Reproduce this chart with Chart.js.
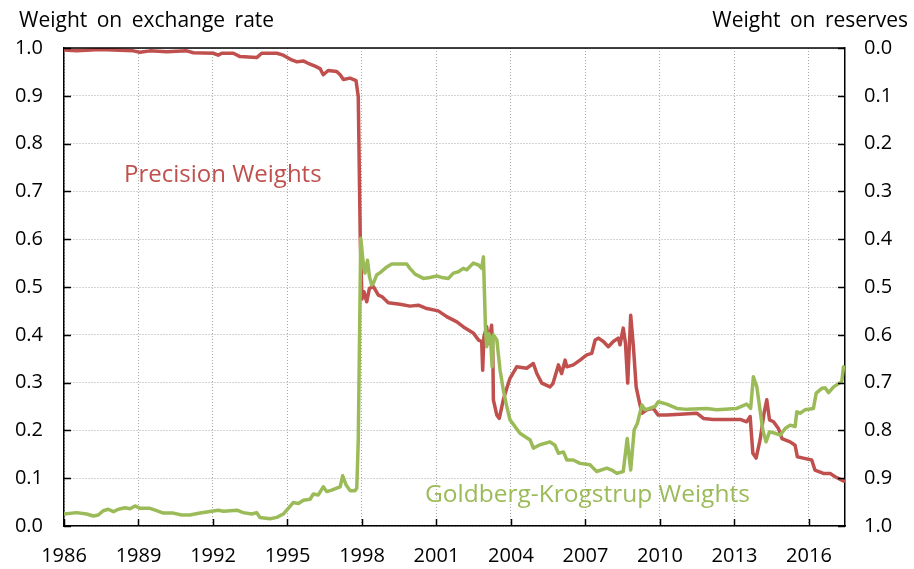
<!DOCTYPE html>
<html lang="en">
<head>
<meta charset="UTF-8" />
<title>Precision vs Goldberg-Krogstrup weights</title>
<style>
  html, body { margin: 0; padding: 0; background: #ffffff; }
  #wrap { width: 914px; height: 569px; }
</style>
</head>
<body>
<div id="wrap"><canvas id="weightsChart" width="914" height="569"></canvas></div>
<script src="https://cdn.jsdelivr.net/npm/chart.js"></script>
<script>
// Precision weights (weight on exchange rate)
const precisionYears = [
  1986.00, 1986.51, 1987.45, 1988.79, 1989.06, 1989.46, 1990.14, 1990.94, 1991.21, 1992.01,
  1992.21, 1992.35, 1992.82, 1993.09, 1993.76, 1993.96, 1994.57, 1994.83, 1995.17, 1995.38,
  1995.63, 1995.83, 1996.11, 1996.31, 1996.44, 1996.64, 1996.98, 1997.12, 1997.25, 1997.52,
  1997.76, 1997.85, 1997.93, 1998.00, 1998.08, 1998.19, 1998.30, 1998.46, 1998.66, 1998.80,
  1999.06, 1999.53, 1999.93, 2000.27, 2000.61, 2001.07, 2001.41, 2001.82, 2002.15, 2002.48,
  2002.69, 2002.82, 2002.86, 2002.91, 2003.02, 2003.10, 2003.22, 2003.27, 2003.29, 2003.43,
  2003.53, 2003.69, 2003.83, 2003.96, 2004.23, 2004.63, 2004.90, 2005.04, 2005.24, 2005.57,
  2005.69, 2005.91, 2006.04, 2006.18, 2006.25, 2006.51, 2006.78, 2007.05, 2007.25, 2007.39,
  2007.52, 2007.72, 2007.92, 2008.12, 2008.32, 2008.39, 2008.52, 2008.61, 2008.70, 2008.82,
  2008.93, 2009.04, 2009.15, 2009.27, 2009.47, 2009.73, 2009.93, 2010.27, 2010.81, 2011.48,
  2011.75, 2012.15, 2013.23, 2013.49, 2013.63, 2013.74, 2013.87, 2014.03, 2014.19, 2014.30,
  2014.41, 2014.57, 2014.77, 2014.91, 2015.24, 2015.44, 2015.53, 2015.77, 2016.11, 2016.24,
  2016.58, 2016.85, 2017.05, 2017.32, 2017.45
];
const precisionWeights = [
  0.996, 0.994, 0.997, 0.994, 0.991, 0.994, 0.992, 0.994, 0.990, 0.989,
  0.985, 0.989, 0.989, 0.982, 0.980, 0.989, 0.989, 0.985, 0.975, 0.971,
  0.973, 0.968, 0.962, 0.957, 0.944, 0.953, 0.951, 0.944, 0.934, 0.937,
  0.932, 0.898, 0.600, 0.475, 0.490, 0.469, 0.497, 0.501, 0.483, 0.480,
  0.467, 0.464, 0.460, 0.462, 0.455, 0.450, 0.438, 0.427, 0.414, 0.404,
  0.389, 0.386, 0.326, 0.396, 0.417, 0.382, 0.420, 0.361, 0.264, 0.232,
  0.225, 0.264, 0.288, 0.309, 0.333, 0.330, 0.340, 0.319, 0.299, 0.291,
  0.298, 0.337, 0.319, 0.347, 0.333, 0.337, 0.347, 0.358, 0.361, 0.389,
  0.393, 0.386, 0.375, 0.386, 0.393, 0.379, 0.414, 0.382, 0.299, 0.441,
  0.375, 0.291, 0.264, 0.236, 0.243, 0.246, 0.232, 0.232, 0.234, 0.236,
  0.225, 0.223, 0.223, 0.218, 0.229, 0.152, 0.142, 0.180, 0.236, 0.264,
  0.222, 0.218, 0.204, 0.183, 0.176, 0.169, 0.145, 0.142, 0.138, 0.117,
  0.110, 0.110, 0.103, 0.096, 0.093
];

// Goldberg-Krogstrup weights
const gkYears = [
  1986.00, 1986.51, 1986.91, 1987.18, 1987.38, 1987.58, 1987.78, 1987.99, 1988.19, 1988.46,
  1988.66, 1988.86, 1989.06, 1989.46, 1989.73, 1990.00, 1990.40, 1990.74, 1991.07, 1991.48,
  1991.81, 1992.21, 1992.42, 1992.96, 1993.22, 1993.56, 1993.76, 1993.89, 1994.30, 1994.57,
  1994.83, 1995.03, 1995.23, 1995.44, 1995.64, 1995.91, 1996.04, 1996.24, 1996.44, 1996.58,
  1996.78, 1996.98, 1997.12, 1997.22, 1997.36, 1997.52, 1997.72, 1997.79, 1997.85, 1997.95,
  1998.05, 1998.12, 1998.22, 1998.30, 1998.39, 1998.46, 1998.59, 1998.73, 1999.00, 1999.20,
  1999.80, 1999.93, 2000.14, 2000.47, 2000.74, 2001.01, 2001.21, 2001.48, 2001.68, 2001.88,
  2002.08, 2002.22, 2002.48, 2002.69, 2002.82, 2002.89, 2002.97, 2003.02, 2003.10, 2003.18,
  2003.24, 2003.29, 2003.43, 2003.56, 2003.69, 2003.83, 2003.96, 2004.36, 2004.77, 2004.90,
  2005.17, 2005.57, 2005.77, 2005.91, 2006.11, 2006.25, 2006.51, 2006.78, 2007.18, 2007.45,
  2007.86, 2008.06, 2008.26, 2008.52, 2008.68, 2008.82, 2008.96, 2009.09, 2009.27, 2009.40,
  2009.80, 2009.93, 2010.27, 2010.68, 2011.08, 2011.88, 2012.29, 2013.09, 2013.49, 2013.65,
  2013.76, 2013.90, 2014.14, 2014.27, 2014.41, 2014.64, 2014.84, 2015.04, 2015.24, 2015.44,
  2015.51, 2015.64, 2015.84, 2016.18, 2016.29, 2016.52, 2016.65, 2016.79, 2016.99, 2017.32,
  2017.39, 2017.45
];
const gkWeights = [
  0.025, 0.028, 0.025, 0.021, 0.023, 0.032, 0.035, 0.030, 0.035, 0.038,
  0.036, 0.042, 0.037, 0.037, 0.032, 0.027, 0.027, 0.023, 0.023, 0.027,
  0.030, 0.033, 0.031, 0.033, 0.028, 0.025, 0.028, 0.018, 0.015, 0.018,
  0.025, 0.037, 0.049, 0.047, 0.054, 0.056, 0.067, 0.065, 0.082, 0.072,
  0.075, 0.079, 0.082, 0.105, 0.086, 0.074, 0.074, 0.079, 0.180, 0.602,
  0.550, 0.529, 0.556, 0.522, 0.504, 0.508, 0.525, 0.530, 0.542, 0.548,
  0.548, 0.539, 0.527, 0.518, 0.520, 0.523, 0.520, 0.518, 0.529, 0.532,
  0.539, 0.536, 0.550, 0.546, 0.539, 0.563, 0.417, 0.375, 0.403, 0.389,
  0.333, 0.400, 0.389, 0.326, 0.285, 0.250, 0.222, 0.194, 0.180, 0.163,
  0.170, 0.176, 0.169, 0.152, 0.155, 0.138, 0.138, 0.131, 0.128, 0.114,
  0.121, 0.117, 0.110, 0.114, 0.183, 0.117, 0.201, 0.215, 0.253, 0.243,
  0.250, 0.260, 0.255, 0.246, 0.244, 0.246, 0.243, 0.246, 0.255, 0.246,
  0.312, 0.291, 0.201, 0.176, 0.197, 0.194, 0.190, 0.204, 0.211, 0.208,
  0.239, 0.236, 0.243, 0.246, 0.278, 0.288, 0.289, 0.279, 0.291, 0.302,
  0.333, 0.330
];

const xMin = 1986, xMax = 2017.45, xStep = 3;
const leftTitle = 'Weight on exchange rate';
const rightTitle = 'Weight on reserves';
const precisionLabel = 'Precision Weights';
const gkLabel = 'Goldberg-Krogstrup Weights';

const RED = '#C0504D';
const GREEN = '#9BBB59';
const FONT = '"Open Sans", "Noto Sans", sans-serif';

function toPoints(xs, ys) {
  return xs.map((x, i) => ({ x: x, y: ys[i] }));
}

// frame top line, inward tick marks, titles and in-plot labels
const decorations = {
  id: 'decorations',
  afterDraw(chart) {
    const { ctx, chartArea: a, scales } = chart;
    ctx.save();
    ctx.strokeStyle = '#000';
    ctx.lineWidth = 1.5;
    ctx.beginPath();
    ctx.moveTo(a.left, a.top);
    ctx.lineTo(a.right, a.top);
    ctx.stroke();

    const tl = 7;
    ctx.beginPath();
    scales.y.ticks.forEach(t => {
      const py = Math.round(scales.y.getPixelForValue(t.value)) + 0.5;
      ctx.moveTo(a.left, py); ctx.lineTo(a.left + tl, py);
      ctx.moveTo(a.right, py); ctx.lineTo(a.right - tl, py);
    });
    scales.x.ticks.forEach(t => {
      const px = Math.round(scales.x.getPixelForValue(t.value)) + 0.5;
      ctx.moveTo(px, a.bottom); ctx.lineTo(px, a.bottom - tl);
    });
    ctx.stroke();

    ctx.fillStyle = '#000';
    ctx.font = '21px ' + FONT;
    ctx.textBaseline = 'alphabetic';
    if ('wordSpacing' in ctx) ctx.wordSpacing = '4px';
    ctx.textAlign = 'left';
    ctx.fillText(leftTitle, 19, 27);
    ctx.textAlign = 'right';
    ctx.fillText(rightTitle, 908, 27);
    if ('wordSpacing' in ctx) ctx.wordSpacing = '0px';

    ctx.textAlign = 'left';
    ctx.font = '24px ' + FONT;
    ctx.fillStyle = RED;
    ctx.fillText(precisionLabel, 124, 182);
    ctx.font = '24.5px ' + FONT;
    ctx.fillStyle = GREEN;
    ctx.fillText(gkLabel, 425, 502);
    ctx.restore();
  }
};

const gridDash = { display: true, color: '#000', width: 1.5, dash: [1, 2] };

new Chart(document.getElementById('weightsChart').getContext('2d'), {
  type: 'line',
  data: {
    datasets: [
      {
        label: gkLabel,
        data: toPoints(gkYears, gkWeights),
        borderColor: GREEN,
        borderWidth: 3.5,
        pointRadius: 0,
        tension: 0,
        borderJoinStyle: 'round',
        yAxisID: 'y'
      },
      {
        label: precisionLabel,
        data: toPoints(precisionYears, precisionWeights),
        borderColor: RED,
        borderWidth: 3.5,
        pointRadius: 0,
        tension: 0,
        borderJoinStyle: 'round',
        yAxisID: 'y'
      }
    ]
  },
  options: {
    responsive: false,
    animation: false,
    layout: { padding: { top: 48, left: 0, right: 0, bottom: 0 } },
    plugins: {
      legend: { display: false },
      tooltip: { enabled: false }
    },
    scales: {
      x: {
        type: 'linear',
        min: xMin,
        max: xMax,
        afterFit: s => { s.height = 43; },
        ticks: {
          stepSize: xStep,
          includeBounds: false,
          autoSkip: false,
          maxRotation: 0,
          padding: 18,
          color: '#000',
          font: { family: FONT, size: 20 },
          callback: v => String(v)
        },
        grid: { color: '#a8a8a8', lineWidth: 1, drawTicks: false },
        border: gridDash
      },
      y: {
        position: 'left',
        min: 0,
        max: 1,
        afterFit: s => { s.width = 64; },
        ticks: {
          stepSize: 0.1,
          padding: 21,
          color: '#000',
          font: { family: FONT, size: 20 },
          callback: v => Number(v).toFixed(1)
        },
        grid: { color: '#a8a8a8', lineWidth: 1, drawTicks: false },
        border: gridDash
      },
      y2: {
        position: 'right',
        min: 0,
        max: 1,
        reverse: true,
        afterFit: s => { s.width = 69; },
        ticks: {
          stepSize: 0.1,
          padding: 19,
          color: '#000',
          font: { family: FONT, size: 20 },
          callback: v => Number(v).toFixed(1)
        },
        grid: { drawOnChartArea: false, drawTicks: false },
        border: { display: true, color: '#000', width: 1.5 }
      }
    }
  },
  plugins: [decorations]
});
</script>
</body>
</html>
